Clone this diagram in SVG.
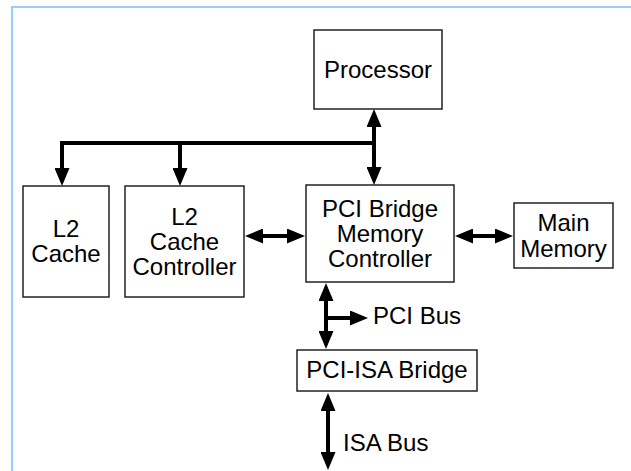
<svg xmlns="http://www.w3.org/2000/svg" width="631" height="471" viewBox="0 0 631 471">
<defs>
<style>
.box{fill:#fff;stroke:#222;stroke-width:1.5}
.lbl{font-family:"Liberation Sans",Arial,sans-serif;font-size:24px;fill:#000;text-anchor:middle}
.lbl2{font-family:"Liberation Sans",Arial,sans-serif;font-size:24px;fill:#000}
.con{fill:none;stroke:#000;stroke-width:4;stroke-linejoin:miter}
.a2{marker-start:url(#ah);marker-end:url(#ah)}
.a1{marker-end:url(#ah)}
</style>
<marker id="ah" markerUnits="userSpaceOnUse" markerWidth="18" markerHeight="15" viewBox="0 0 18 15" refX="8" refY="7.5" orient="auto-start-reverse">
<path d="M0,0 L18,7.5 L0,15 z" fill="#000"/>
</marker>
</defs>
<rect x="12" y="7" width="640" height="480" fill="#fff" stroke="#99ccff" stroke-width="2"/>
<g id="connectors">
<path class="con a1" d="M62,143 V176"/>
<path class="con" d="M60,143 H374"/>
<path class="con a1" d="M180,143 V176"/>
<path class="con a2" d="M374,119 V175"/>
<path class="con a2" d="M255,236 H295"/>
<path class="con a2" d="M465,236 H503"/>
<path class="con a2" d="M326,293 V339"/>
<path class="con a1" d="M326,318 H358"/>
<path class="con a2" d="M328,403 V460"/>
</g>
<g id="processor">
<rect class="box" x="314" y="30" width="128" height="79"/>
<text class="lbl" x="378" y="78">Processor</text>
</g>
<g id="l2cache">
<rect class="box" x="23" y="186" width="86" height="111"/>
<text class="lbl" x="66" y="237">L2</text>
<text class="lbl" x="66" y="262">Cache</text>
</g>
<g id="l2controller">
<rect class="box" x="125" y="186" width="119" height="111"/>
<text class="lbl" x="184.5" y="224.5">L2</text>
<text class="lbl" x="184.5" y="249.5">Cache</text>
<text class="lbl" x="184.5" y="274.5">Controller</text>
</g>
<g id="pcibridge">
<rect class="box" x="306" y="185" width="148" height="97"/>
<text class="lbl" x="380" y="216.5">PCI Bridge</text>
<text class="lbl" x="380" y="241.5">Memory</text>
<text class="lbl" x="380" y="266.5">Controller</text>
</g>
<g id="mainmemory">
<rect class="box" x="514" y="203" width="99" height="65"/>
<text class="lbl" x="563.5" y="231">Main</text>
<text class="lbl" x="563.5" y="257">Memory</text>
</g>
<g id="pciisa">
<rect class="box" x="297" y="350" width="180" height="41"/>
<text class="lbl" x="387" y="378">PCI-ISA Bridge</text>
</g>
<g id="labels">
<text class="lbl2" x="373" y="324">PCI Bus</text>
<text class="lbl2" x="343" y="451">ISA Bus</text>
</g>
</svg>
